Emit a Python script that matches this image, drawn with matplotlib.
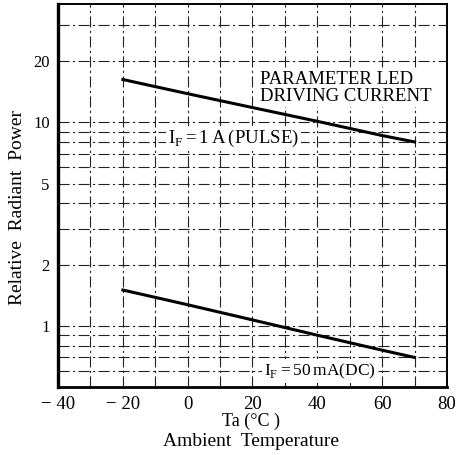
import matplotlib
matplotlib.use("Agg")
import matplotlib.pyplot as plt
from matplotlib.ticker import FixedLocator, NullLocator, FixedFormatter

# Data
temp = [-20, 0, 20, 40, 60, 70]
pulse_1A = [16.2, 13.8, 11.8, 10.1, 8.6, 8.0]
dc_50mA = [1.50, 1.27, 1.07, 0.90, 0.76, 0.70]

x_ticks = [-40, -20, 0, 20, 40, 60, 80]
y_ticks = [1, 2, 5, 10, 20]
x_grid = [-30, -20, -10, 0, 10, 20, 30, 40, 50, 60, 70]
y_grid = [0.6, 0.7, 0.8, 0.9, 1, 2, 3, 4, 5, 6, 7, 8, 9, 10, 20, 30]

plt.rcParams['font.family'] = ['Liberation Serif', 'DejaVu Serif']

fig = plt.figure(figsize=(4.68, 4.55), dpi=100)
ax = fig.add_axes([0.124, 0.149, 0.831, 0.842])
ax.set_yscale('log')
ax.set_xlim(-40, 80)
ax.set_ylim(0.5, 38)

gl = dict(color='#222222', lw=0.8, linestyle=(0, (10, 3, 2, 3)), zorder=1)
for gx in x_grid:
    ax.axvline(gx, **gl)
for gy in y_grid:
    ax.axhline(gy, **gl)

ax.plot(temp, pulse_1A, color='black', lw=2.2, zorder=3)
ax.plot(temp, dc_50mA, color='black', lw=2.2, zorder=3)

ax.xaxis.set_major_locator(FixedLocator(x_ticks))
ax.xaxis.set_minor_locator(NullLocator())
ax.yaxis.set_major_locator(FixedLocator(y_ticks))
ax.yaxis.set_major_formatter(FixedFormatter([str(v) for v in y_ticks]))
ax.yaxis.set_minor_locator(NullLocator())
ax.set_xticklabels(['\u2212 40', '\u2212 20', '0', '20', '40', '60', '80'])
ax.tick_params(axis='x', length=0, labelsize=13.5, pad=6)
ax.tick_params(axis='y', length=0, labelsize=12, pad=6)

for s, w in [('left', 2.4), ('bottom', 2.0), ('top', 1.4), ('right', 1.4)]:
    ax.spines[s].set_linewidth(w)
    ax.spines[s].set_zorder(5)

box = dict(facecolor='white', edgecolor='none', pad=1.5)
ax.text(0.52, 0.78, 'PARAMETER LED\nDRIVING CURRENT', transform=ax.transAxes,
        fontsize=13.5, ha='left', va='center', linespacing=1.0, bbox=box, zorder=4)
ax.text(0.283, 0.650, r'I$_\mathregular{F}$$\,$=$\,$1$\,$A$\,$(PULSE)', transform=ax.transAxes,
        fontsize=13.5, ha='left', va='center', bbox=box, zorder=4)
ax.text(0.530, 0.042, r'I$_\mathregular{F}$$\,$=$\,$50$\,$mA(DC)', transform=ax.transAxes,
        fontsize=12.5, ha='left', va='center', bbox=box, zorder=4)

fig.text(0.038, 0.545, 'Relative  Radiant  Power', rotation=90, ha='center', va='center',
         fontsize=14)
fig.text(0.536, 0.073, 'Ta (\u00b0C )', ha='center', va='center', fontsize=13)
fig.text(0.536, 0.029, 'Ambient  Temperature', ha='center', va='center', fontsize=14)

fig.savefig('out.png', dpi=100)
